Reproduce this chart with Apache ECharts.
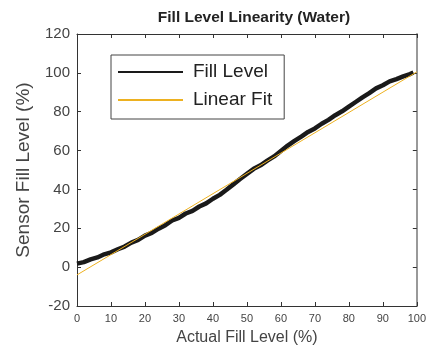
<!DOCTYPE html>
<html>
<head>
<meta charset="utf-8">
<script src="https://cdn.jsdelivr.net/npm/echarts@6/dist/echarts.min.js"></script>
<style>
    html, body { margin: 0; padding: 0; background: #fff; }
    #chart { width: 429px; height: 352px; }
</style>
</head>
<body>
<div id="chart"></div>
<script>
    const actualLevel = [0, 2, 4, 6, 8, 10, 12, 14, 16, 18, 20, 22, 24, 26, 28, 30, 32, 34, 36, 38,
        40, 42, 44, 46, 48, 50, 52, 54, 56, 58, 60, 62, 64, 66, 68, 70, 72, 74, 76, 78,
        80, 82, 84, 86, 88, 90, 92, 94, 96, 98, 99];
    const sensorLevel = [1.8, 2.6, 4.0, 5.0, 6.6, 7.6, 9.2, 10.6, 12.6, 14.0, 16.2, 17.6, 19.8, 21.6, 24.0, 25.4, 27.6, 29.0, 31.2, 32.8,
        35.2, 37.2, 39.8, 42.6, 45.4, 48.0, 50.6, 52.4, 54.8, 57.0, 59.8, 62.6, 65.0, 67.2, 69.6, 71.4, 73.8, 75.8, 78.2, 80.2,
        82.6, 85.0, 87.4, 89.6, 92.0, 93.6, 95.6, 96.8, 98.2, 99.4, 100.2];
    // straight fit end points
    const fitX = [0, 100];
    const fitY = [-4, 100.5];

    const zip = (a, b) => a.map((v, i) => [v, b[i]]);

    const font = 'Liberation Sans';
    const tickIn = { inside: true, length: 4, lineStyle: { color: '#333' } };
    const lineAx = { show: true, onZero: false, lineStyle: { color: '#333', width: 1 } };

    const chart = echarts.init(document.getElementById('chart'));
    chart.setOption({
        animation: false,
        title: {
            text: 'Fill Level Linearity (Water)',
            left: 249,
            top: 5,
            textAlign: 'center',
            textStyle: { fontSize: 15.5, fontWeight: 'bold', color: '#222', fontFamily: font }
        },
        legend: {
            orient: 'vertical',
            left: 111,
            top: 55,
            padding: [6, 12, 8, 6],
            itemWidth: 65,
            itemHeight: 14,
            itemGap: 6,
            backgroundColor: '#fff',
            borderColor: '#444',
            borderWidth: 1,
            borderRadius: 0,
            itemStyle: { opacity: 0 },
            textStyle: { fontSize: 19, lineHeight: 22, color: '#222', fontFamily: font, padding: [0, 0, 0, 5] },
            data: ['Fill Level', 'Linear Fit']
        },
        grid: { left: 77, right: 9, top: 34, bottom: 46 },
        xAxis: [{
            type: 'value', min: 0, max: 100, interval: 10,
            name: 'Actual Fill Level (%)', nameLocation: 'middle', nameGap: 24,
            nameTextStyle: { fontSize: 16, color: '#444', fontFamily: font },
            axisLine: lineAx, axisTick: tickIn,
            axisLabel: { color: '#444', fontSize: 11, fontFamily: font, margin: 7 },
            splitLine: { show: false }
        }, {
            type: 'value', position: 'top', min: 0, max: 100, interval: 10,
            axisLine: lineAx, axisTick: tickIn, axisLabel: { show: false }, splitLine: { show: false }
        }],
        yAxis: [{
            type: 'value', min: -20, max: 120, interval: 20,
            name: 'Sensor Fill Level (%)', nameLocation: 'middle', nameGap: 44,
            nameTextStyle: { fontSize: 19, color: '#444', fontFamily: font },
            axisLine: lineAx, axisTick: tickIn,
            axisLabel: { color: '#444', fontSize: 15, fontFamily: font, margin: 7 },
            splitLine: { show: false }
        }, {
            type: 'value', position: 'right', min: -20, max: 120, interval: 20,
            axisLine: { show: true, onZero: false, lineStyle: { color: '#999', width: 2 } },
            axisTick: tickIn, axisLabel: { show: false }, splitLine: { show: false }
        }],
        series: [{
            name: 'Fill Level',
            type: 'line',
            symbol: 'none',
            data: zip(actualLevel, sensorLevel),
            lineStyle: { color: '#1a1a1a', width: 4.5 },
            itemStyle: { color: '#1a1a1a' },
            z: 2
        }, {
            name: 'Linear Fit',
            type: 'line',
            symbol: 'none',
            data: zip(fitX, fitY),
            lineStyle: { color: '#EDB120', width: 1 },
            itemStyle: { color: '#EDB120' },
            z: 3
        }]
    });
</script>
</body>
</html>
